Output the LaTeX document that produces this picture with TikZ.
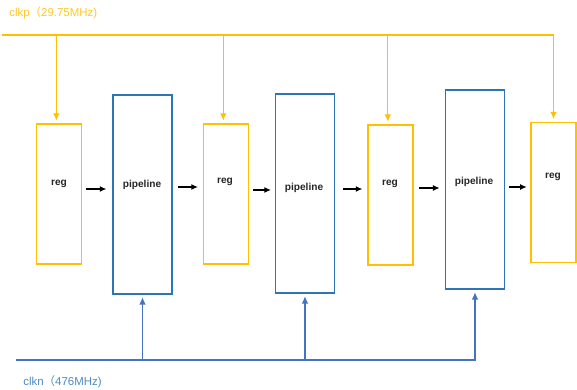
\documentclass[tikz,border=0pt]{standalone}
\usepackage{fontspec}
\setmainfont{Liberation Sans}
\newfontfamily\cjk{Noto Sans CJK SC}
\usepackage{xcolor}
\usepackage{tikz}
\usetikzlibrary{arrows.meta}

\definecolor{clkpcol}{HTML}{FFC000}
\definecolor{clkncol}{HTML}{4472C4}
\definecolor{pipecol}{HTML}{2E75B6}

\begin{document}
\begin{tikzpicture}[
    x=0.75pt, y=-0.75pt,
    reg/.style={
        rectangle, draw=clkpcol, line width=1.1pt,
        minimum width=34pt, minimum height=105pt
    },
    pipe/.style={
        rectangle, draw=pipecol, line width=1.1pt,
        minimum width=44pt, minimum height=149pt
    },
    txt/.style={font=\fontsize{7.6}{8}\selectfont\bfseries, text=black!85},
    data/.style={-{Latex[length=5pt, width=4.5pt]}, line width=0.9pt},
    clkp/.style={draw=clkpcol, line width=0.9pt},
    clkn/.style={draw=clkncol, line width=0.9pt},
    tipp/.style={-{Latex[length=5.5pt, width=5pt]}, shorten >=2pt},
]
\useasboundingbox (0,0) rectangle (577,389);

% 1. Registers and pipeline stages
\node[reg]  (r1) at (59,194)    {};
\node[pipe] (p1) at (142.5,194.5) {};
\node[reg]  (r2) at (226,194)   {};
\node[pipe] (p2) at (305,193.5) {};
\node[reg]  (r3) at (390.5,195) {};
\node[pipe] (p3) at (475,189.5) {};
\node[reg]  (r4) at (553.5,192.5) {};

% texts sit a bit above the middle
\node[txt] (r1t) at (59,184)  {reg};
\node[txt] (p1t) at (142,185) {pipeline};
\node[txt] (r2t) at (225,182) {reg};
\node[txt] (p2t) at (304,188) {pipeline};
\node[txt] (r3t) at (390,184) {reg};
\node[txt] (p3t) at (474,182) {pipeline};
\node[txt] (r4t) at (553,177) {reg};

% 2. Data flow
\draw[data] (86,189)  -- ([xshift=-4.5pt]p1.west |- 0,189);
\draw[data] (178,187) -- ([xshift=-3.5pt]r2.west |- 0,187);
\draw[data] (253,190) -- ([xshift=-3pt]p2.west |- 0,190);
\draw[data] (343,189) -- ([xshift=-3.5pt]r3.west |- 0,189);
\draw[data] (419,188) -- ([xshift=-4pt]p3.west |- 0,188);
\draw[data] (509,187) -- ([xshift=-2.5pt]r4.west |- 0,187);

% 3. Clocks
\coordinate (pbus) at (2,35);
\coordinate (nbus) at (16,360);

\draw[clkp, tipp] (pbus) -| (r4.north);
\foreach \r in {r1,r2,r3}
    \draw[clkp, tipp] ([xshift=-2pt]\r.north |- pbus) -- ([xshift=-2pt]\r.north);

\draw[clkn, tipp] (nbus) -| (p3.south);
\foreach \p in {p1,p2}
    \draw[clkn, tipp] (\p.south |- nbus) -- (\p.south);

\node[anchor=west, text=clkpcol!85, font=\fontsize{8.6}{9}\selectfont, inner sep=0pt]
    (clkplbl) at (9,13) {clkp{\cjk（}29.75MHz)};
\node[anchor=west, text=pipecol!85, font=\fontsize{8.6}{9}\selectfont, inner sep=0pt]
    (clknlbl) at (23,382) {clkn{\cjk（}476MHz)};

\end{tikzpicture}
\end{document}
